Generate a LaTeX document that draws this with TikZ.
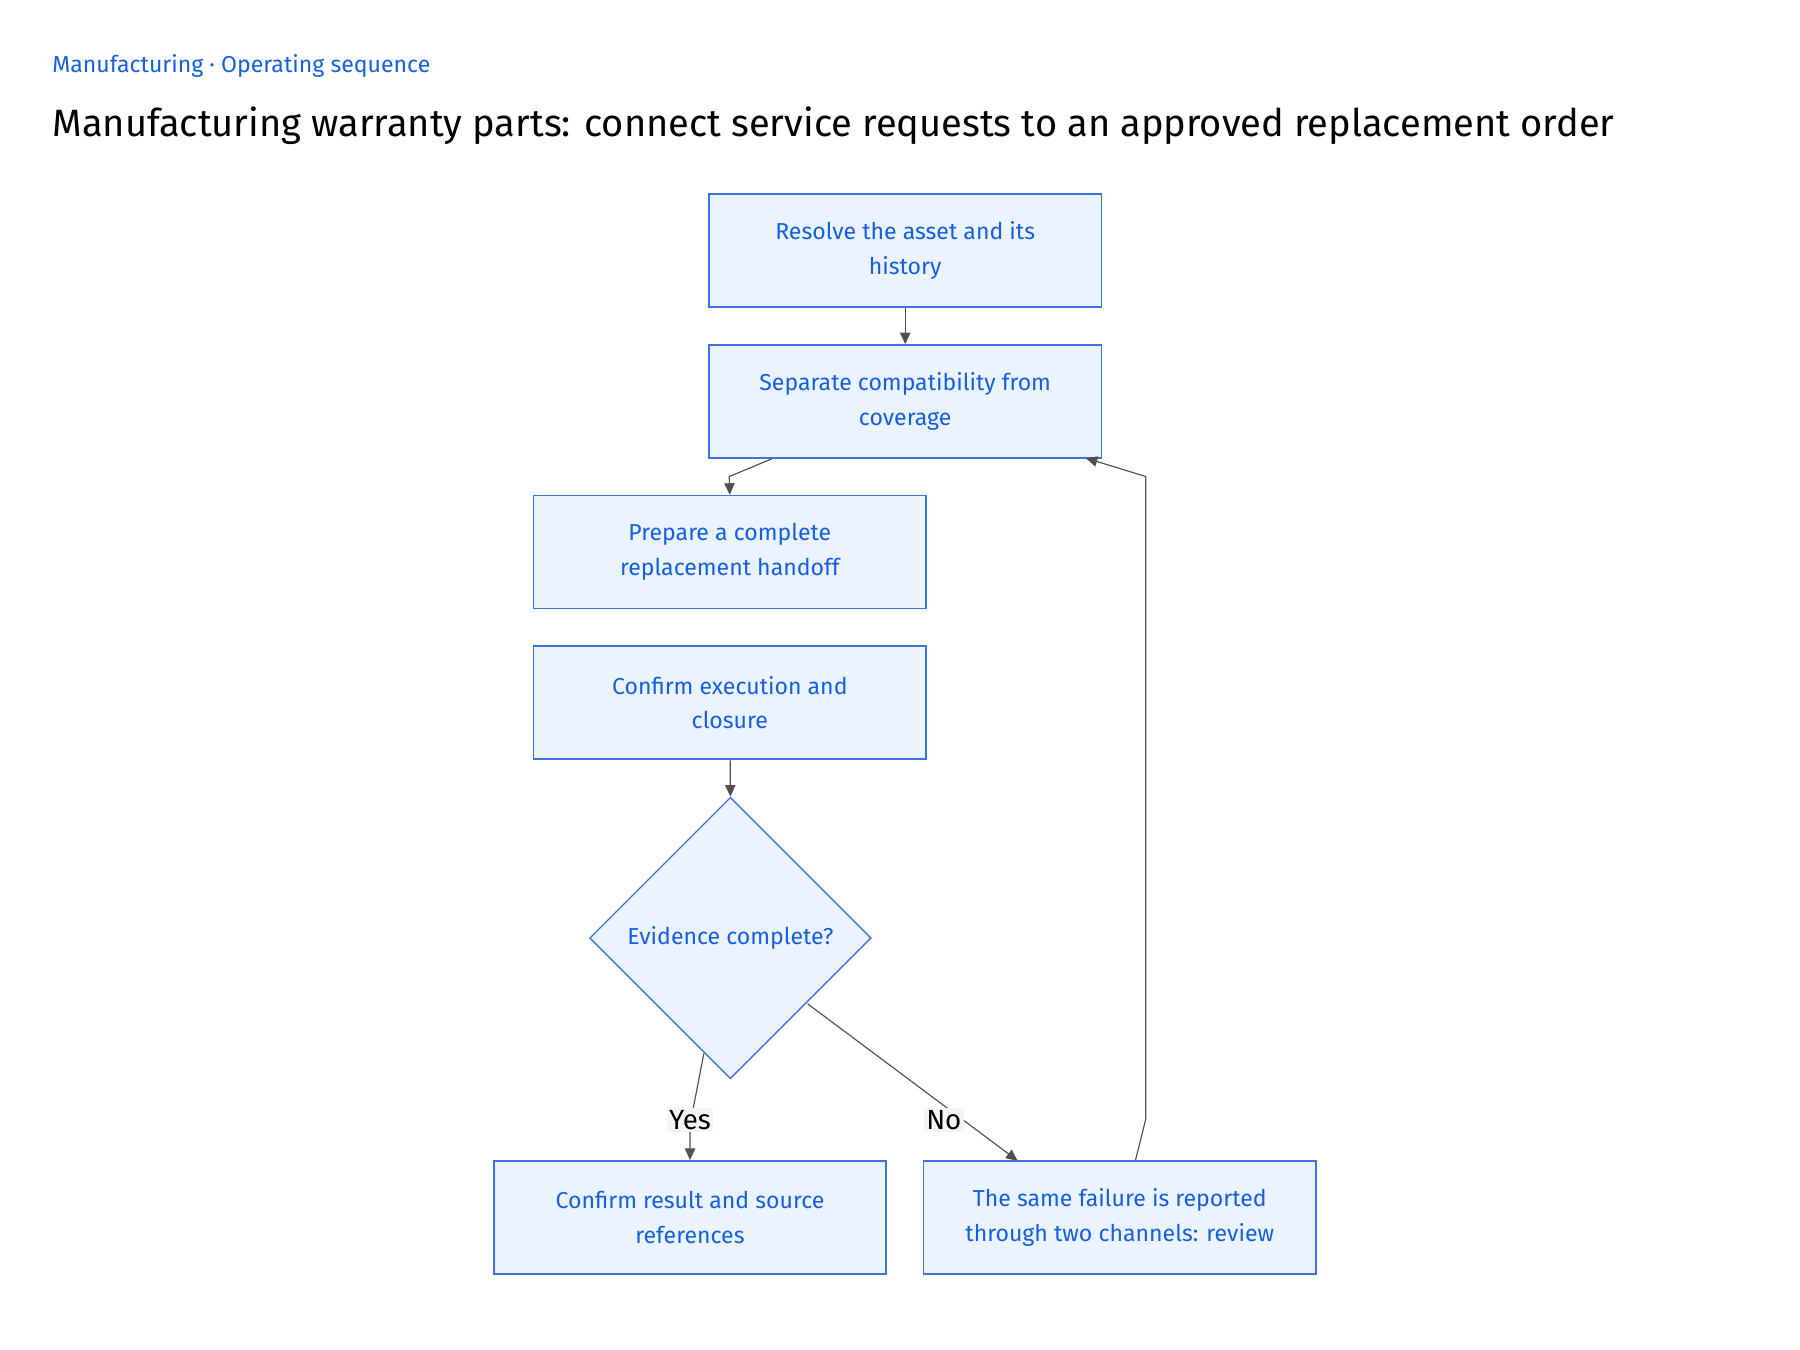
\documentclass[tikz,border=0pt]{standalone}
\usepackage{fontspec}
\setmainfont{Fira Sans}
\usetikzlibrary{shapes.geometric,arrows.meta}
\definecolor{bfill}{HTML}{EBF3FE}
\definecolor{bdraw}{HTML}{3D73E0}
\definecolor{btext}{HTML}{1460E0}
\definecolor{edge}{HTML}{505050}
\tikzset{
  box/.style={draw=bdraw,fill=bfill,line width=0.7pt,minimum width=170pt,minimum height=49pt,inner sep=0pt,align=center,text=btext,font=\fontsize{10}{15}\selectfont},
  dec/.style={diamond,draw=bdraw,fill=bfill,line width=0.6pt,minimum width=122pt,minimum height=122pt,inner sep=0pt,aspect=1,text=btext,font=\fontsize{10}{15}\selectfont},
  conn/.style={draw=edge,line width=0.5pt,-{Triangle[length=5pt,width=4.5pt]}},
  lbl/.style={fill=black!4,inner sep=1pt,font=\fontsize{12}{14}\selectfont,text=black}
}
\begin{document}
\begin{tikzpicture}[x=0.5pt,y=-0.5pt]
\useasboundingbox (0,0) rectangle (1560,1170);
\node[anchor=base west,text=btext,font=\fontsize{10}{12}\selectfont,inner sep=0pt] (sub) at (45,63) {Manufacturing · Operating sequence};
\node[anchor=base west,font=\fontsize{16.5}{20}\selectfont,inner sep=0pt] (title) at (45,118) {Manufacturing warranty parts: connect service requests to an approved replacement order};
\node[box] (b1) at (784.5,217) {Resolve the asset and its\\history};
\node[box] (b2) at (784.5,348) {Separate compatibility from\\coverage};
\node[box] (b3) at (632.5,478.5) {Prepare a complete\\replacement handoff};
\node[box] (b4) at (632.5,609) {Confirm execution and\\closure};
\node[dec] (d) at (633,813) {Evidence complete?};
\node[box] (b5) at (598,1055) {Confirm result and source\\references};
\node[box] (b6) at (970.5,1055) {The same failure is reported\\through two channels: review};
\draw[conn] (b1) -- (b2);
\draw[conn] (b2.south west) ++(55,0) -- (632,413) -- (b3.north);
\draw[conn] (b4) -- (d.north);
\draw[conn] (610,913) -- (598,975) -- (b5.north);
\node[lbl] (yes) at (598,971) {Yes};
\draw[conn] (700,870) -- (882,1006);
\node[lbl] (no) at (818,971) {No};
\draw[conn] (984,1006) -- (993,970) -- (993,413) -- (941,397);
\end{tikzpicture}
\end{document}
